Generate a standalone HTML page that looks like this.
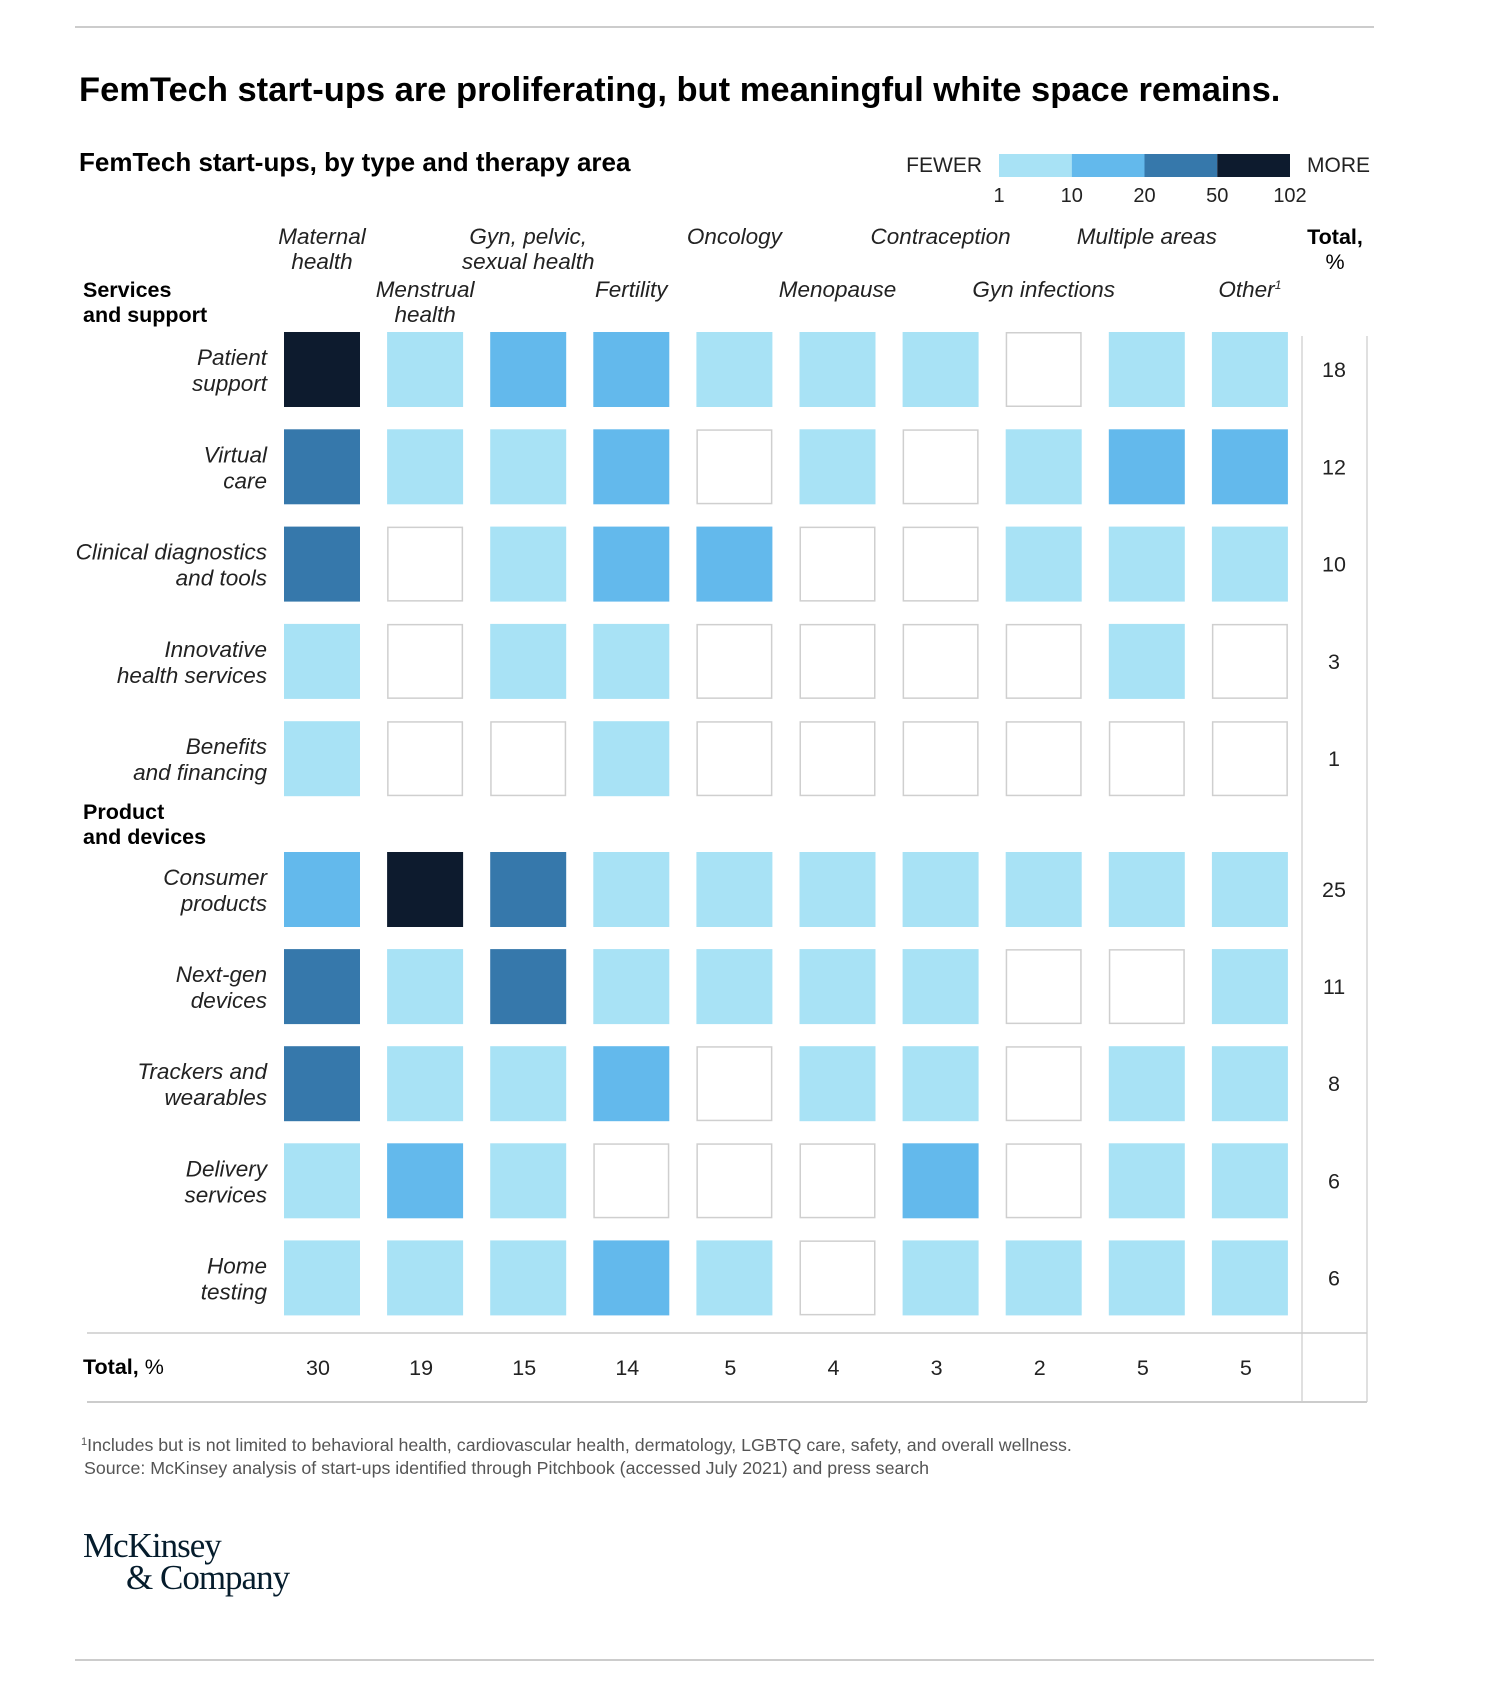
<!DOCTYPE html>
<html><head><meta charset="utf-8">
<style>
html,body{margin:0;padding:0;background:#fff;}
svg{display:block;font-family:"Liberation Sans",Arial,sans-serif;}
</style></head>
<body>
<svg id="chart" width="1490" height="1700" viewBox="0 0 1490 1700" xmlns="http://www.w3.org/2000/svg">
<line x1="75" y1="27" x2="1374" y2="27" stroke="#bbb" stroke-width="1.5"/>
<text x="79" y="101" font-size="34.5" font-weight="bold" fill="#000">FemTech start-ups are proliferating, but meaningful white space remains.</text>
<text x="79" y="171" font-size="26" font-weight="bold" fill="#000">FemTech start-ups, by type and therapy area</text>
<g id="legend"></g>
<g id="headers"></g>
<text x="1335" y="244" font-size="21.5" font-weight="bold" text-anchor="middle">Total,</text>
<text x="1335" y="269" font-size="21.5" text-anchor="middle">%</text>
<text x="83" y="297" font-size="21.5" font-weight="bold">Services</text>
<text x="83" y="322" font-size="21.5" font-weight="bold">and support</text>
<text x="83" y="819" font-size="21.5" font-weight="bold">Product</text>
<text x="83" y="844" font-size="21.5" font-weight="bold">and devices</text>
<g id="cells"></g>
<g id="rowlabels"></g>
<line x1="1302" y1="336" x2="1302" y2="1402" stroke="#ccc" stroke-width="1.2"/>
<line x1="1367" y1="336" x2="1367" y2="1402" stroke="#ccc" stroke-width="1.2"/>
<line x1="87" y1="1333" x2="1367" y2="1333" stroke="#ccc" stroke-width="1.5"/>
<line x1="87" y1="1402" x2="1367" y2="1402" stroke="#ccc" stroke-width="2"/>
<text x="83" y="1374" font-size="21.5"><tspan font-weight="bold">Total,</tspan> %</text>
<g id="totals"></g>
<text x="81" y="1451" font-size="17.8" fill="#555"><tspan font-size="11" dy="-6">1</tspan><tspan dy="6">Includes but is not limited to behavioral health, cardiovascular health, dermatology, LGBTQ care, safety, and overall wellness.</tspan></text>
<text x="84" y="1474" font-size="17.8" fill="#555">Source: McKinsey analysis of start-ups identified through Pitchbook (accessed July 2021) and press search</text>
<text x="83" y="1557" font-size="35" font-family="Liberation Serif, serif" fill="#051c2c" letter-spacing="-1">McKinsey</text>
<text x="126" y="1589" font-size="35" font-family="Liberation Serif, serif" fill="#051c2c" letter-spacing="-1">&amp; Company</text>
<line x1="75" y1="1660" x2="1374" y2="1660" stroke="#bbb" stroke-width="1.5"/>
</svg>
<script>
const columns = ["Maternal health","Menstrual health","Gyn, pelvic, sexual health","Fertility","Oncology","Menopause","Contraception","Gyn infections","Multiple areas","Other"];
const rows = ["Patient support","Virtual care","Clinical diagnostics and tools","Innovative health services","Benefits and financing","Consumer products","Next-gen devices","Trackers and wearables","Delivery services","Home testing"];
const rowLines = [["Patient","support"],["Virtual","care"],["Clinical diagnostics","and tools"],["Innovative","health services"],["Benefits","and financing"],["Consumer","products"],["Next-gen","devices"],["Trackers and","wearables"],["Delivery","services"],["Home","testing"]];
const levels = [
 [4,1,2,2,1,1,1,0,1,1],
 [3,1,1,2,0,1,0,1,2,2],
 [3,0,1,2,2,0,0,1,1,1],
 [1,0,1,1,0,0,0,0,1,0],
 [1,0,0,1,0,0,0,0,0,0],
 [2,4,3,1,1,1,1,1,1,1],
 [3,1,3,1,1,1,1,0,0,1],
 [3,1,1,2,0,1,1,0,1,1],
 [1,2,1,0,0,0,2,0,1,1],
 [1,1,1,2,1,0,1,1,1,1]
];
const rowTotals = [18,12,10,3,1,25,11,8,6,6];
const colTotals = [30,19,15,14,5,4,3,2,5,5];
const legendTicks = ["1","10","20","50","102"];
const NS="http://www.w3.org/2000/svg";
const palette=["#ffffff","#a8e2f5","#63b9ec","#3678ab","#0d1b2e"];
const X0=284, PITCH=103.1, CW=76;
function colX(i){return X0+i*PITCH;}
function rowY(r){return r<5 ? 332+r*97.3 : 852+(r-5)*97.1;}
function mk(tag,attrs,parent,txt){const e=document.createElementNS(NS,tag);for(const k in attrs)e.setAttribute(k,attrs[k]);if(txt!==undefined)e.textContent=txt;parent.appendChild(e);return e;}
const lg=document.getElementById('legend');
let t=mk('text',{x:982,y:172,'font-size':21,'text-anchor':'end',fill:'#222'},lg,'FEWER');


for(let i=1;i<=4;i++){
 const r=mk('rect',{x:999+(i-1)*72.75,y:154,width:72.75,height:23,fill:palette[i]},lg);
 
 
}
t=mk('text',{x:1307,y:172,'font-size':21,fill:'#222'},lg,'MORE');


legendTicks.forEach((v,i)=>{
 const e=mk('text',{x:999+i*72.75,y:202,'font-size':20,'text-anchor':'middle',fill:'#222'},lg,v);
 
 
});
const hd=document.getElementById('headers');
const headerLines=[["Maternal","health"],["Menstrual","health"],["Gyn, pelvic,","sexual health"],["Fertility"],["Oncology"],["Menopause"],["Contraception"],["Gyn infections"],["Multiple areas"],["Other"]];
columns.forEach((c,i)=>{
 const cx=colX(i)+CW/2;
 const y0 = i%2===0 ? 244 : 297;
 headerLines[i].forEach((ln,k)=>{
  const e=mk('text',{x:cx,y:y0+k*25,'font-size':22.5,'font-style':'italic','text-anchor':'middle',fill:'#222'},hd,ln);
  
  
  if(i===9){mk('tspan',{'font-size':12,dy:-8},e,'1');}
 });
});
const cg=document.getElementById('cells');
levels.forEach((row,r)=>{
 row.forEach((lv,c)=>{
  const attrs={x:colX(c),y:rowY(r),width:CW,height:75,fill:palette[lv]};
  if(lv===0){attrs.x=colX(c)+0.75;attrs.y=rowY(r)+0.75;attrs.width=CW-1.5;attrs.height=73.5;attrs.stroke='#cfcfcf';attrs['stroke-width']=1.5;}
  const e=mk('rect',attrs,cg);
  
  
 });
});
const rl=document.getElementById('rowlabels');
rowLines.forEach((lines,r)=>{
 lines.forEach((ln,k)=>{
  const e=mk('text',{x:267,y:rowY(r)+33+k*26,'font-size':22.5,'font-style':'italic','text-anchor':'end',fill:'#222'},rl,ln);
  
  
 });
});
const tg=document.getElementById('totals');
rowTotals.forEach((v,r)=>{
 const e=mk('text',{x:1334,y:rowY(r)+45,'font-size':21.5,'text-anchor':'middle',fill:'#222'},tg,String(v));
 
 
});
colTotals.forEach((v,c)=>{
 const e=mk('text',{x:colX(c)+CW/2-4,y:1375,'font-size':21.5,'text-anchor':'middle',fill:'#222'},tg,String(v));
 
 
});
</script>
</body></html>
